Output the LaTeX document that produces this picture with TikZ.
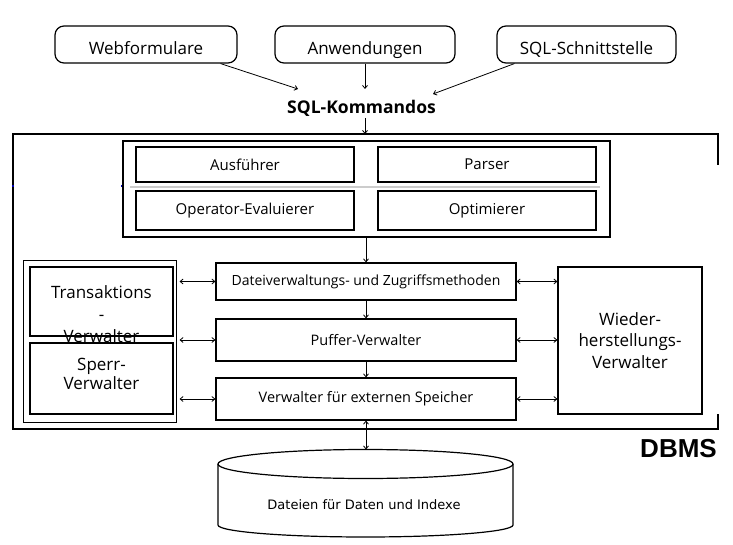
\documentclass[tikz,border=0pt]{standalone}
\usepackage{fontspec}
\setmainfont{Open Sans}
\newfontfamily\dbmsfont{Liberation Sans}
\newfontfamily\dvfont{DejaVu Sans}
\usetikzlibrary{arrows.meta}
\begin{document}
\begin{tikzpicture}[x=1pt,y=-1pt,
  box/.style={draw, line width=1.2pt, inner sep=0pt, align=center},
  rbox/.style={box, rounded corners=9pt, minimum width=180pt, minimum height=37pt, text height=20pt, text depth=0pt, font=\fontsize{17}{20}\selectfont},
  qbox/.style={box, line width=1.3pt, minimum width=218pt, font=\fontsize{15}{18}\selectfont},
  mbox/.style={box, minimum width=300pt, font=\fontsize{14.5}{17}\selectfont},
  bigtxt/.style={font=\fontsize{17}{22}\selectfont, align=center, inner sep=0pt},
  arr/.style={line width=0.8pt, -{Straight Barb[length=3pt,width=5pt]}},
  dbl/.style={line width=0.8pt, {Straight Barb[length=3pt,width=5pt]}-{Straight Barb[length=3pt,width=5pt]}}
]
\useasboundingbox (0,0) rectangle (733,545);

% top sources
\node[rbox, minimum width=182pt] (web) at (146,44.5) {Webformulare};
\node[rbox] (anw) at (365,44.5) {Anwendungen};
\node[rbox, minimum width=179pt] (sqlif) at (586.5,44.5) {SQL-Schnittstelle};
\node[font=\fontsize{17.5}{20}\selectfont\bfseries, inner sep=0pt] (sqlk) at (361.5,108) {SQL-Kommandos};
\coordinate (e1) at (298,89);
\coordinate (e2) at (365,89);
\coordinate (e3) at (433,94);
\coordinate (top) at (365,134);
\draw[arr] ([xshift=-17pt]web.south east) -- (e1);
\draw[arr] (anw.south) -- (e2);
\draw[arr] ([xshift=18pt]sqlif.south west) -- (e3);
\draw[arr] (sqlk.south -| top) ++(0,2) -- (top);

% DBMS frame
\draw[line width=1.4pt] (718,165) -- (718,134) -- (13,134) -- (13,429) -- (718,429) -- (718,414);
\node[font=\dbmsfont\bfseries\fontsize{26}{28}\selectfont, inner sep=0pt] (dbms) at (678.5,448.5) {DBMS};
\fill[blue!70!black] (12,185) rectangle (14,187);
\fill[blue!70!black] (121,185) rectangle (123,187);

% query processing
\node[box, line width=1.3pt, minimum width=487pt, minimum height=96pt] (qp) at (366.5,189) {};
\draw[gray!40, line width=1.5pt] (130,187) -- (600,187);
\node[qbox, minimum height=35pt] (aus) at (245,164.5) {Ausführer};
\node[qbox, minimum height=35pt] (par) at (487,164.5) {Parser};
\node[qbox, minimum height=39pt] (ope) at (245,210.5) {Operator-Evaluierer};
\node[qbox, minimum height=39pt] (opt) at (487,210.5) {Optimierer};

% middle column
\node[mbox, minimum height=37pt, font=\fontsize{14}{17}\selectfont] (dat) at (366,281.5) {Dateiverwaltungs- und Zugriffsmethoden};
\node[mbox, minimum height=42pt] (puf) at (366,340) {Puffer-Verwalter};
\node[mbox, minimum height=42pt] (vext) at (366,399) {Verwalter für externen Speicher};
\draw[arr] (qp.south -| dat.north) -- (dat.north);
\draw[arr] (dat.south) -- (puf.north);
\draw[arr] (puf.south) -- (vext.north);

% left group
\node[box, line width=1pt, minimum width=153pt, minimum height=161pt] (lg) at (99.5,341.5) {};
\node[box, minimum width=143pt, minimum height=69pt] (tv) at (101.5,301.5) {};
\node[box, minimum width=143pt, minimum height=71pt] (sv) at (101.5,378.5) {};
\node[bigtxt] (tvt) at (101.5,314) {Transaktions\\-\\Verwalter};
\node[bigtxt, font=\fontsize{17}{19}\selectfont] (svt) at (101.5,374) {Sperr-\\Verwalter};

% right box
\node[box, minimum width=144pt, minimum height=147pt, font=\fontsize{17}{21.5}\selectfont] (wv) at (630,340.5) {Wieder-\\herstellungs-\\Verwalter};

% horizontal double arrows
\draw[dbl, shorten <=3pt] (lg.east |- dat) -- (dat.west);
\draw[dbl, shorten <=3pt] (lg.east |- puf) -- (puf.west);
\draw[dbl, shorten <=3pt] (lg.east |- vext) -- (vext.west);
\draw[dbl] (dat.east) -- (wv.west |- dat);
\draw[dbl] (puf.east) -- (wv.west |- puf);
\draw[dbl] (vext.east) -- (wv.west |- vext);

% database cylinder
\draw[line width=1.2pt] (365.5,464) ellipse [x radius=147.5, y radius=14.5];
\draw[line width=1.2pt] (218,464) -- (218,525) arc[start angle=180, end angle=0, x radius=147.5, y radius=12] -- (513,464);
\coordinate (dbtop) at (366,449.5);
\node[font=\dvfont\fontsize{13}{15}\selectfont, inner sep=0pt] (db) at (364,505) {Dateien für Daten und Indexe};
\draw[dbl] (vext.south) -- (dbtop);
\end{tikzpicture}
\end{document}
